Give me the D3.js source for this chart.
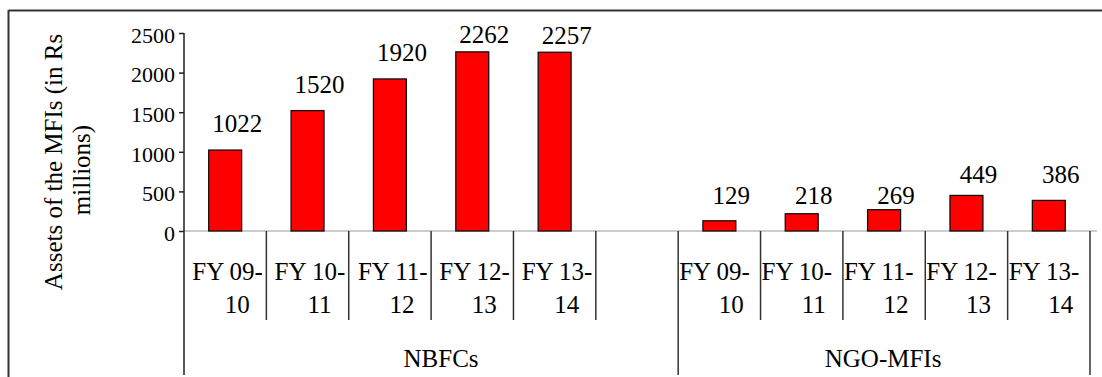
<!DOCTYPE html>
<html>
<head>
<meta charset="utf-8">
<script src="https://cdn.jsdelivr.net/npm/d3@7/dist/d3.min.js"></script>
<style>
  html, body { margin: 0; padding: 0; background: #fff; }
  svg { display: block; }
  svg text { font-family: "Times New Roman", "Liberation Serif", Tinos, "DejaVu Serif", serif; fill: #000; }
</style>
</head>
<body>
<svg id="chart" width="1102" height="377"></svg>
<script>
// Assets of the MFIs, Rs millions, by institution type and financial year
const groups = ["NBFCs", "NGO-MFIs"];
const years = ["FY 09-10", "FY 10-11", "FY 11-12", "FY 12-13", "FY 13-14"];
const nbfcValues = [1022, 1520, 1920, 2262, 2257];
const ngoValues = [129, 218, 269, 449, 386];
const yTicks = [0, 500, 1000, 1500, 2000, 2500];
const yTitle = ["Assets of the MFIs (in Rs", "millions)"];

// Pixel gap between each bar top and its value label
const nbfcLabelGap = [18, 17.5, 17.7, 8.5, 8.5];
const ngoLabelGap = [17, 9.5, 5.5, 12, 17];

const FONT = "'Times New Roman', 'Liberation Serif', Tinos, 'DejaVu Serif', serif";
const svg = d3.select("#chart").attr("font-family", FONT);
const W = 1102, H = 377;
const plotLeft = 184, plotRight = 1090, plotTop = 33, plotBottom = 231;

// Category slots: NBFCs has a trailing empty slot before NGO-MFIs
const slots = [];
years.forEach((yr, i) => slots.push({ group: "NBFCs", year: yr, value: nbfcValues[i], gap: nbfcLabelGap[i], key: "NBFCs|" + yr }));
slots.push({ group: "NBFCs", year: "", value: null, key: "NBFCs|blank" });
years.forEach((yr, i) => slots.push({ group: "NGO-MFIs", year: yr, value: ngoValues[i], gap: ngoLabelGap[i], key: "NGO-MFIs|" + yr }));

const x = d3.scaleBand().domain(slots.map(d => d.key)).range([plotLeft, plotRight]).padding(0);
const y = d3.scaleLinear().domain([0, 2500]).range([plotBottom, plotTop]);
const bw = x.bandwidth();
const barW = bw * 0.4;

// Outer frame (top and left edges)
svg.append("line").attr("x1", 8.5).attr("x2", W).attr("y1", 10.5).attr("y2", 10.5)
  .attr("stroke", "#333").attr("stroke-width", 2);
svg.append("line").attr("x1", 8.5).attr("x2", 8.5).attr("y1", 10).attr("y2", H)
  .attr("stroke", "#333").attr("stroke-width", 2);

// Zero baseline
svg.append("line").attr("x1", plotLeft).attr("x2", 1097).attr("y1", y(0)).attr("y2", y(0))
  .attr("stroke", "#999").attr("stroke-width", 1);

// Bars
const bars = slots.filter(d => d.value !== null);
svg.append("g").selectAll("rect").data(bars).join("rect")
  .attr("x", d => x(d.key) + (bw - barW) / 2)
  .attr("y", d => y(d.value))
  .attr("width", barW)
  .attr("height", d => y(0) - y(d.value))
  .attr("fill", "#ff0000")
  .attr("stroke", "#111")
  .attr("stroke-width", 1.3);

// Value labels
svg.append("g").selectAll("text").data(bars).join("text")
  .attr("x", d => x(d.key) + bw / 2 + 12)
  .attr("y", d => y(d.value) - d.gap)
  .attr("text-anchor", "middle")
  .attr("font-size", 25)
  .text(d => d.value);

// Y axis
const yAxis = d3.axisLeft(y).tickValues(yTicks).tickFormat(d3.format("d")).tickSize(5).tickPadding(4);
const ga = svg.append("g").attr("transform", `translate(${plotLeft},0)`).call(yAxis);
ga.attr("font-family", FONT).attr("font-size", 22);
ga.select(".domain").remove();
ga.selectAll(".tick line").attr("stroke", "#222").attr("stroke-width", 1.5);
ga.selectAll(".tick text").attr("dy", "0.42em");
svg.append("line").attr("x1", plotLeft).attr("x2", plotLeft).attr("y1", plotTop).attr("y2", 375)
  .attr("stroke", "#222").attr("stroke-width", 1.5);

// Category separators below the baseline
const ngoStart = x("NGO-MFIs|" + years[0]);
const catEdges = slots.map(d => x(d.key) + bw).filter(e => Math.abs(e - plotRight) > 1 && Math.abs(e - ngoStart) > 1);
svg.append("g").selectAll("line").data(catEdges).join("line")
  .attr("x1", d => d).attr("x2", d => d).attr("y1", y(0)).attr("y2", 320)
  .attr("stroke", "#333").attr("stroke-width", 1.5);

// Group separators (full depth)
const groupEdges = [ngoStart, plotRight];
svg.append("g").selectAll("line").data(groupEdges).join("line")
  .attr("x1", d => d).attr("x2", d => d).attr("y1", y(0)).attr("y2", 375)
  .attr("stroke", "#333").attr("stroke-width", 1.5);

// Category labels, wrapped after the hyphen
const cats = slots.filter(d => d.year);
const catG = svg.append("g").attr("font-size", 25);
cats.forEach(d => {
  const cut = d.year.indexOf("-") + 1;
  const l1 = d.year.slice(0, cut), l2 = d.year.slice(cut);
  const left = x(d.key), right = left + bw;
  if (d.group === "NBFCs") {
    catG.append("text").attr("x", right - 3.5).attr("y", 280).attr("text-anchor", "end").text(l1);
  } else {
    catG.append("text").attr("x", left + 1).attr("y", 280).attr("text-anchor", "start").text(l1);
  }
  catG.append("text").attr("x", left + bw / 2 + 12).attr("y", 313).attr("text-anchor", "middle").text(l2);
});

// Group labels
const groupSpan = g => {
  const ks = slots.filter(d => d.group === g).map(d => x(d.key));
  return [d3.min(ks), d3.max(ks) + bw];
};
const groupNudge = { "NBFCs": 10, "NGO-MFIs": -1 };
svg.append("g").selectAll("text").data(groups).join("text")
  .attr("x", g => d3.mean(groupSpan(g)) + groupNudge[g])
  .attr("y", 367)
  .attr("text-anchor", "middle")
  .attr("font-size", 25)
  .text(g => g);

// Y axis title, two lines rotated
const tg = svg.append("g").attr("font-size", 25).attr("text-anchor", "middle");
tg.append("text").attr("transform", "translate(62,162) rotate(-90)").text(yTitle[0]);
tg.append("text").attr("transform", "translate(90,170) rotate(-90)").text(yTitle[1]);
</script>
</body>
</html>
